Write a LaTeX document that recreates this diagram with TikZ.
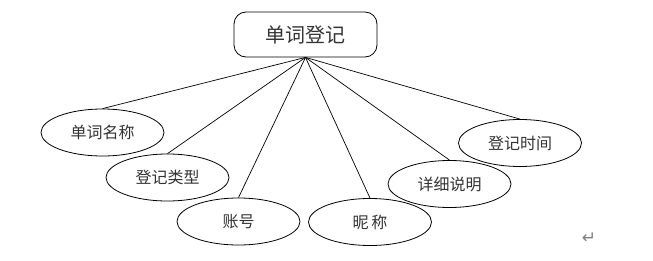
\documentclass[tikz,border=0pt]{standalone}
\usepackage{fontspec}
\newfontfamily\cjk{Noto Sans CJK SC}
\newfontfamily\sym{DejaVu Sans}
\usetikzlibrary{shapes.geometric}
\tikzset{
  attr/.style={draw=black, line width=0.8pt, ellipse, minimum width=123pt, minimum height=47pt, inner sep=0pt, text=black!80, font=\cjk\fontsize{16}{16}\selectfont},
  entity/.style={draw=black, line width=0.8pt, rounded corners=12pt, minimum width=143pt, minimum height=45pt, inner sep=0pt, text=black!80, font=\cjk\fontsize{20}{20}\selectfont},
  link/.style={draw=black, line width=0.7pt}
}
\begin{document}
\begin{tikzpicture}[x=1pt,y=-1pt]
\useasboundingbox (0,0) rectangle (653,260);
\node[entity] (top) at (305.5,34.5) {单词登记};
\node[attr] (a1) at (102.5,132.5) {单词名称};
\node[attr] (a2) at (167.5,177.5) {登记类型};
\node[attr] (a3) at (238.5,221.5) {账号};
\node[attr] (a4) at (370,222) {昵\,称};
\node[attr] (a5) at (449.5,184) {详细说明};
\node[attr] (a6) at (520,143) {登记时间};
\foreach \n in {a1,a2,a3,a4,a5,a6} \draw[link] (top.south) -- (\n.north);
\node[text=gray, font=\sym\fontsize{17}{17}\selectfont, inner sep=0pt] (ret) at (589,238) {↵};
\end{tikzpicture}
\end{document}
